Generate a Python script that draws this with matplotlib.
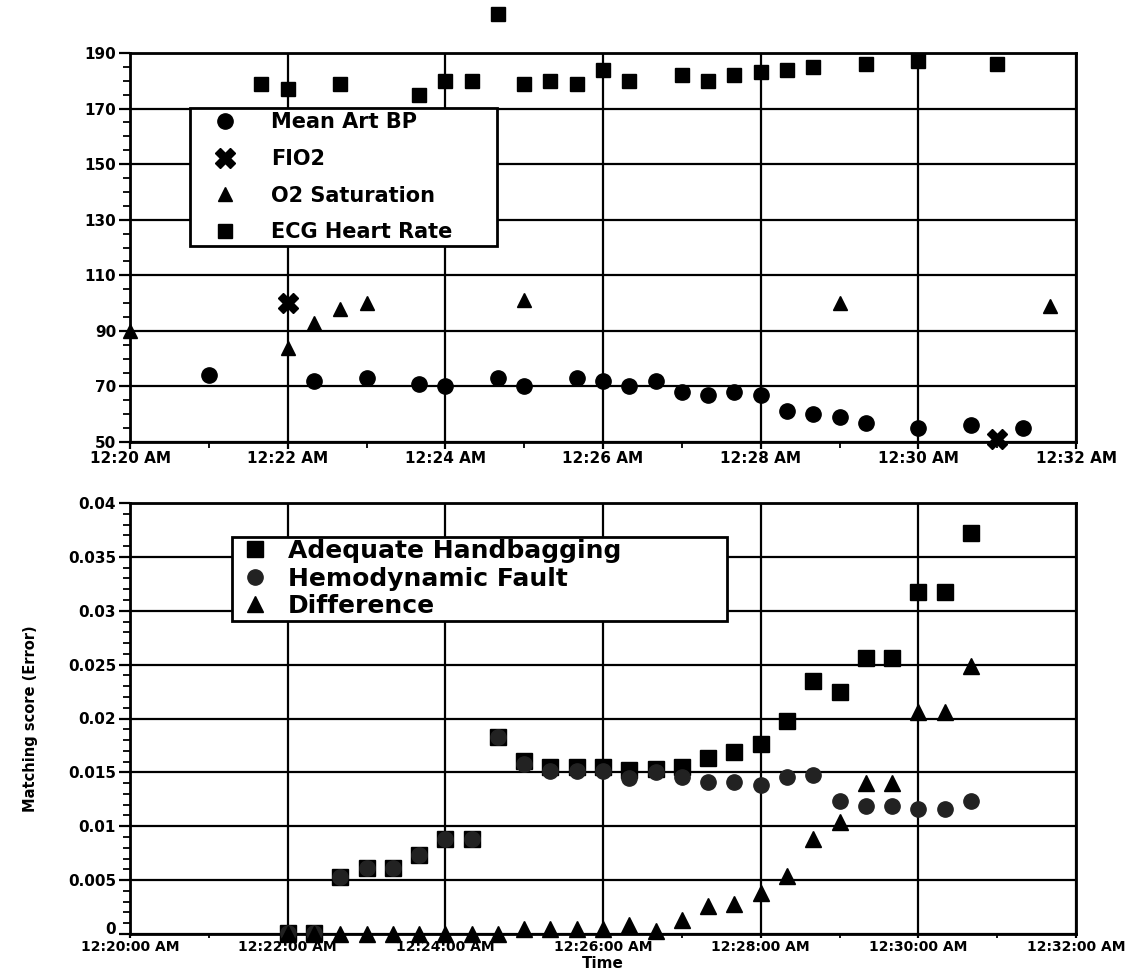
import matplotlib.pyplot as plt
from matplotlib.ticker import MultipleLocator

# --- Top panel: vital signs ---
top_tick_labels = ["12:20 AM", "12:22 AM", "12:24 AM", "12:26 AM", "12:28 AM", "12:30 AM", "12:32 AM"]
top_y_ticks = [50, 70, 90, 110, 130, 150, 170, 190]

bp_times = ["12:21:00", "12:22:20", "12:23:00", "12:23:40", "12:24:00", "12:24:40", "12:25:00",
            "12:25:40", "12:26:00", "12:26:20", "12:26:40", "12:27:00", "12:27:20", "12:27:40",
            "12:28:00", "12:28:20", "12:28:40", "12:29:00", "12:29:20", "12:30:00", "12:30:40",
            "12:31:20"]
bp = [74, 72, 73, 71, 70, 73, 70, 73, 72, 70, 72, 68, 67, 68, 67, 61, 60, 59, 57, 55, 56, 55]

fio2_times = ["12:22:00", "12:31:00"]
fio2 = [100, 51]

o2_times = ["12:20:00", "12:22:00", "12:22:20", "12:22:40", "12:23:00", "12:25:00", "12:29:00", "12:31:40"]
o2 = [90, 84, 93, 98, 100, 101, 100, 99]

ecg_times = ["12:21:40", "12:22:00", "12:22:40", "12:23:40", "12:24:00", "12:24:20", "12:24:40",
             "12:25:00", "12:25:20", "12:25:40", "12:26:00", "12:26:20", "12:27:00", "12:27:20",
             "12:27:40", "12:28:00", "12:28:20", "12:28:40", "12:29:20", "12:30:00", "12:31:00"]
ecg = [179, 177, 179, 175, 180, 180, 204, 179, 180, 179, 184, 180, 182, 180, 182, 183, 184, 185,
       186, 187, 186]

# --- Bottom panel: matching scores ---
bottom_tick_labels = ["12:20:00 AM", "12:22:00 AM", "12:24:00 AM", "12:26:00 AM", "12:28:00 AM",
                      "12:30:00 AM", "12:32:00 AM"]
bottom_y_ticks = [0, 0.005, 0.01, 0.015, 0.02, 0.025, 0.03, 0.035, 0.04]
bottom_y_labels = ["0", "0.005", "0.01", "0.015", "0.02", "0.025", "0.03", "0.035", "0.04"]

score_times = ["12:22:00", "12:22:20", "12:22:40", "12:23:00", "12:23:20", "12:23:40", "12:24:00",
               "12:24:20", "12:24:40", "12:25:00", "12:25:20", "12:25:40", "12:26:00", "12:26:20",
               "12:26:40", "12:27:00", "12:27:20", "12:27:40", "12:28:00", "12:28:20", "12:28:40",
               "12:29:00", "12:29:20", "12:29:40", "12:30:00", "12:30:20", "12:30:40"]
adequate = [0.0001, 0.0001, 0.0053, 0.0061, 0.0061, 0.0073, 0.0088, 0.0088, 0.0183, 0.0161,
            0.0155, 0.0155, 0.0155, 0.0152, 0.0153, 0.0155, 0.0163, 0.0169, 0.0176, 0.0198,
            0.0235, 0.0225, 0.0256, 0.0256, 0.0317, 0.0317, 0.0372]
hemo = [0.0001, 0.0001, 0.0053, 0.0061, 0.0061, 0.0073, 0.0088, 0.0088, 0.0183, 0.0158,
        0.0151, 0.0151, 0.0151, 0.0145, 0.0150, 0.0146, 0.0141, 0.0141, 0.0138, 0.0146,
        0.0148, 0.0123, 0.0119, 0.0119, 0.0116, 0.0116, 0.0123]
diff = [0, 0, 0, 0, 0, 0, 0, 0, 0, 0.0005, 0.0005, 0.0005, 0.0005, 0.0008, 0.0003, 0.0013,
        0.0026, 0.0028, 0.0038, 0.0054, 0.0088, 0.0104, 0.0140, 0.0140, 0.0206, 0.0206, 0.0249]


def to_min(s):
    # "12:22:40" or "12:22 AM" -> minutes after 12:20
    parts = s.split()[0].split(":")
    sec = int(parts[2]) if len(parts) > 2 else 0
    return (int(parts[0]) % 12) * 60 + int(parts[1]) + sec / 60 - 20


def mins(lst):
    return [to_min(s) for s in lst]


plt.rcParams['font.family'] = 'DejaVu Sans'
plt.rcParams['font.weight'] = 'bold'

fig = plt.figure(figsize=(11.39, 9.75), dpi=100)
ax1 = fig.add_axes([130 / 1139, 1 - 442 / 975, 946 / 1139, 389 / 975])
ax2 = fig.add_axes([130 / 1139, 1 - 934 / 975, 946 / 1139, 431 / 975])

for ax in (ax1, ax2):
    for s in ax.spines.values():
        s.set_linewidth(2)
        s.set_color('black')
    ax.grid(True, which='major', color='black', linewidth=1.6)
    ax.set_axisbelow(True)
    ax.tick_params(which='major', direction='out', length=8, width=1.6, labelsize=11, pad=2)
    ax.tick_params(which='minor', direction='out', length=5, width=1.3)
    ax.tick_params(axis='x', which='major', length=5, pad=1.5)
    ax.tick_params(axis='x', which='minor', length=4)
    ax.xaxis.set_minor_locator(MultipleLocator(1))

# --- top ---
ax1.plot(mins(bp_times), bp, 'o', color='black', ms=11, label='Mean Art BP', clip_on=False, zorder=3)
ax1.plot(mins(fio2_times), fio2, 'X', color='black', ms=15, label='FIO2', clip_on=False, zorder=3)
ax1.plot(mins(o2_times), o2, '^', color='black', ms=10, label='O2 Saturation', clip_on=False, zorder=3)
ax1.plot(mins(ecg_times), ecg, 's', color='black', ms=10.5, label='ECG Heart Rate', clip_on=False, zorder=3)

ax1.set_xlim(0, 12)
ax1.set_ylim(50, 190)
ax1.set_xticks(mins(top_tick_labels), top_tick_labels)
ax1.set_yticks(top_y_ticks)
ax1.yaxis.set_minor_locator(MultipleLocator(5))

leg1 = ax1.legend(loc='upper left', bbox_to_anchor=(0.0634, 0.46, 0.325, 0.3986), mode='expand',
                  prop={'weight': 'bold', 'size': 15}, numpoints=1, fancybox=False, framealpha=1,
                  edgecolor='black', borderpad=0.2, labelspacing=0.8, handlelength=3.0,
                  handletextpad=0.7, borderaxespad=0)
leg1.get_frame().set_linewidth(2)

# --- bottom ---
ax2.plot(mins(score_times), adequate, 's', color='black', ms=11, label='Adequate Handbagging',
         clip_on=False, zorder=3)
ax2.plot(mins(score_times), hemo, 'o', color='#222222', ms=11, label='Hemodynamic Fault',
         clip_on=False, zorder=3)
ax2.plot(mins(score_times), diff, '^', color='black', ms=11, label='Difference', clip_on=False, zorder=3)

ax2.set_xlim(0, 12)
ax2.set_ylim(0, 0.04)
ax2.set_xticks(mins(bottom_tick_labels), bottom_tick_labels)
ax2.set_yticks(bottom_y_ticks, bottom_y_labels)
ax2.yaxis.set_minor_locator(MultipleLocator(0.001))
ax2.tick_params(axis='x', which='major', length=3, pad=1, labelsize=10)
ax2.tick_params(axis='x', which='minor', length=3)
# sit the "0" on its tick so it clears the first time label
ax2.get_yticklabels()[0].set_verticalalignment('baseline')

ax2.set_xlabel("Time", fontsize=11, fontweight='bold')
ax2.xaxis.set_label_coords(0.5, -0.051)
ax2.set_ylabel("Matching score (Error)", fontsize=10.5, fontweight='bold')
ax2.yaxis.set_label_coords(-0.097, 0.5)

leg2 = ax2.legend(loc='upper left', bbox_to_anchor=(0.108, 0.5, 0.523, 0.4217), mode='expand',
                  prop={'weight': 'bold', 'size': 18}, numpoints=1, fancybox=False, framealpha=1,
                  edgecolor='black', borderpad=0.1, labelspacing=0.14, handlelength=1.6,
                  handletextpad=0.52, borderaxespad=0)
leg2.get_frame().set_linewidth(2)

plt.savefig("out.png", dpi=100)
